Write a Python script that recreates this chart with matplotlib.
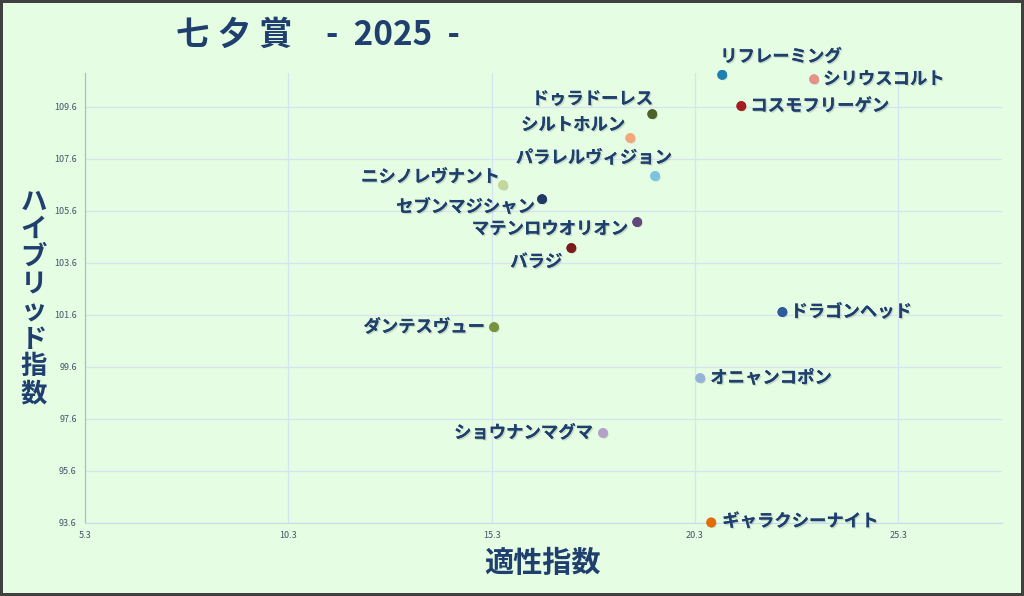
import numpy as np
import matplotlib
matplotlib.use('Agg')
import matplotlib.pyplot as plt
import matplotlib.patheffects as pe

plt.rcParams['font.family'] = ['Noto Sans CJK JP', 'DejaVu Sans']

# data
horses = ['リフレーミング', 'シリウスコルト', 'コスモフリーゲン', 'ドゥラドーレス',
          'シルトホルン', 'パラレルヴィジョン', 'ニシノレヴナント', 'セブンマジシャン',
          'マテンロウオリオン', 'バラジ', 'ドラゴンヘッド', 'ダンテスヴュー',
          'オニャンコポン', 'ショウナンマグマ', 'ギャラクシーナイト']
aptitude = [20.97, 23.23, 21.44, 19.25, 18.71, 19.32, 15.58, 16.54,
            18.88, 17.26, 22.45, 15.36, 20.43, 18.04, 20.70]
hybrid = [110.83, 110.66, 109.63, 109.32, 108.40, 106.94, 106.59, 106.05,
          105.17, 104.17, 101.71, 101.13, 99.17, 97.06, 93.62]
dot_colors = ['#1F7FB0', '#E6928A', '#A31D22', '#4F6228', '#F4A77A', '#7CC3E0',
              '#C4D79B', '#1F3864', '#60497A', '#7B1C1C', '#2E5C9A', '#77933C',
              '#95B3D7', '#B3A2C7', '#E26B0A']

x_ticks = [5.3, 10.3, 15.3, 20.3, 25.3]
y_ticks = [93.6, 95.6, 97.6, 99.6, 101.6, 103.6, 105.6, 107.6, 109.6]

# label placement: (dx, dy) in pixels and which side of the dot
label_pos = [(-2, 18, 'left'), (9, 0, 'left'), (9, 0, 'left'), (1, 15, 'right'),
             (-5, 13, 'right'), (17, 18, 'right'), (-3, 8, 'right'), (-7, -8, 'right'),
             (-9, -7, 'right'), (-9, -14, 'right'), (8, 0, 'left'), (-9, 0, 'right'),
             (10, 0, 'left'), (-10, 0, 'right'), (11, 1, 'left')]

bg = '#E5FDE2'
navy = '#1F3F6E'

fig = plt.figure(figsize=(10.24, 5.96), dpi=100, facecolor=bg)
fig.patch.set_edgecolor('#404040')
fig.patch.set_linewidth(3)
ax = fig.add_axes([0.083, 0.1225, 0.8955, 0.755])
ax.set_facecolor(bg)

ax.set_xlim(5.3, 27.85)
ax.set_ylim(93.6, 110.9)
ax.set_xticks(x_ticks)
ax.set_yticks(y_ticks)
ax.set_xticklabels([f'{v:.1f}' for v in x_ticks])
ax.set_yticklabels([f'{v:.1f}' for v in y_ticks])
ax.tick_params(length=0, labelsize=6.5, colors='#44546A', pad=6)
ax.grid(True, color='#D6E3F0', linewidth=0.9)
ax.set_axisbelow(True)
for s in ['top', 'right']:
    ax.spines[s].set_visible(False)
ax.spines['left'].set_color('#9DB9E6')
ax.spines['bottom'].set_color('#C9DAEE')

dot_shadow = [pe.withSimplePatchShadow(offset=(1, -1), shadow_rgbFace='#7A8A7A', alpha=0.3), pe.Normal()]
text_shadow = [pe.withSimplePatchShadow(offset=(1, -1), alpha=0.15), pe.Normal()]

ax.scatter(aptitude, hybrid, s=36, c=dot_colors, zorder=3, clip_on=False,
           path_effects=dot_shadow)

for name, x, y, (dx, dy, side) in zip(horses, aptitude, hybrid, label_pos):
    ax.annotate(name, (x, y), xytext=(dx * 0.72, dy * 0.72), textcoords='offset points',
                ha=side, va='center', fontsize=12.5, fontweight='bold', color=navy,
                annotation_clip=False, zorder=4, path_effects=text_shadow)

# title: kanji a little spaced apart, then the year
for i, ch in enumerate('七夕賞'):
    fig.text((176 + i * 41) / 1024, 0.94, ch, fontsize=24, fontweight='bold',
             color=navy, ha='left', va='center')
fig.text(326 / 1024, 0.94, '-  2025  -', fontsize=24, fontweight='bold', color=navy,
         ha='left', va='center')

fig.text(0.53, 0.055, '適性指数', fontsize=21, fontweight='bold', color=navy,
         ha='center', va='center')
fig.text(0.033, 0.5, '\n'.join('ハイブリッド指数'), fontsize=19, fontweight='bold',
         color=navy, ha='center', va='center', linespacing=1.02)

fig.savefig('out.png', dpi=100, facecolor=bg, edgecolor='#404040')
